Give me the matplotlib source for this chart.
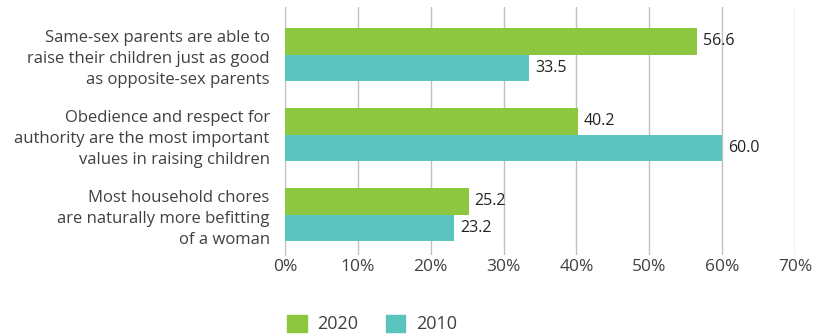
import matplotlib
matplotlib.use("Agg")
import matplotlib.pyplot as plt
from matplotlib.patches import Patch
import numpy as np

plt.rcParams["font.family"] = ["Open Sans", "DejaVu Sans"]

categories = [
    "Same-sex parents are able to\nraise their children just as good\nas opposite-sex parents",
    "Obedience and respect for\nauthority are the most important\nvalues in raising children",
    "Most household chores\nare naturally more befitting\nof a woman",
]
values_2020 = [56.6, 40.2, 25.2]
values_2010 = [33.5, 60.0, 23.2]
series_names = ["2020", "2010"]

GREEN = "#8dc63f"
TEAL = "#5bc4bf"
TEXT = "#404040"

fig = plt.figure(figsize=(8.15, 3.35), dpi=100)
ax = fig.add_axes([285 / 815, 1 - 255 / 335, 510 / 815, 248 / 335])

y = np.arange(len(categories))
h = 0.33
ax.barh(y - h / 2, values_2020, height=h, color=GREEN, zorder=3)
ax.barh(y + h / 2, values_2010, height=h, color=TEAL, zorder=3)

for yi, v in zip(y, values_2020):
    ax.text(v + 0.8, yi - h / 2, f"{v:.1f}", va="center", ha="left",
            fontsize=11.5, color="#222222")
for yi, v in zip(y, values_2010):
    ax.text(v + 0.8, yi + h / 2, f"{v:.1f}", va="center", ha="left",
            fontsize=11.5, color="#222222")

ax.set_xlim(0, 70)
ax.set_ylim(2.506, -0.594)
ax.set_xticks(np.arange(0, 71, 10))
ax.set_xticklabels([f"{t}%" for t in range(0, 71, 10)], fontsize=12.5, color=TEXT)
ax.set_yticks(y)
ax.set_yticklabels(categories, fontsize=12, color=TEXT, linespacing=1.4)
ax.tick_params(axis="y", length=0, pad=11)
ax.tick_params(axis="x", length=0, pad=3)
ax.grid(axis="x", color="#c0c0c0", linewidth=1, zorder=0)
for s in ["top", "right", "bottom"]:
    ax.spines[s].set_visible(False)
ax.spines["left"].set_color("#c0c0c0")

handles = [Patch(color=GREEN), Patch(color=TEAL)]
fig.legend(handles, series_names, loc="center", bbox_to_anchor=(372 / 815, 1 - 324 / 335),
           ncol=2, frameon=False, fontsize=13, handlelength=1.1, handleheight=1.1,
           columnspacing=1.5, handletextpad=0.6, labelcolor=TEXT)

fig.savefig("out.png", dpi=100)
